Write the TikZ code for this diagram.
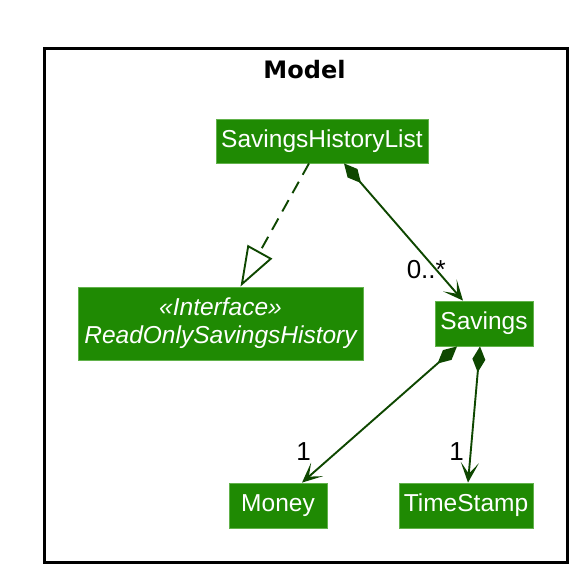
\documentclass[tikz,border=0pt]{standalone}
\usepackage{fontspec}
\setmainfont{Liberation Sans}
\newfontfamily\titlefont{DejaVu Sans}
\usetikzlibrary{arrows.meta,calc}
\definecolor{boxfill}{HTML}{1F8A03}
\definecolor{boxborder}{HTML}{62B24C}
\definecolor{arrowcol}{HTML}{0E4700}
\begin{document}
\begin{tikzpicture}[x=1pt,y=-1pt,
  cls/.style={fill=boxfill,draw=boxborder,line width=0.8pt,text=white,inner sep=0pt,
    font=\fontsize{24.5}{28}\selectfont,align=center},
  lbl/.style={inner sep=0pt,font=\fontsize{26}{28}\selectfont,text=black},
  link/.style={draw=arrowcol,line width=1.9pt},
  comp/.style={link,{Diamond[length=26pt,width=13pt]}-{Stealth[length=20pt,width=18pt,inset=11pt]}},
  realize/.style={link,dash pattern=on 13pt off 8pt,-{Triangle[open,length=40pt,width=28pt,fill=white]}}]
\useasboundingbox (0,0) rectangle (586,582);
\node[draw=black,line width=3pt,minimum width=523pt,minimum height=514pt,inner sep=0pt] (pkg) at (305.5,305) {};
\node[anchor=base,inner sep=0pt,font=\titlefont\bfseries\fontsize{24}{28}\selectfont] (title) at (304.5,78) {Model};
\node[cls,minimum width=212pt,minimum height=44pt] (shl) at (322,141) {SavingsHistoryList};
\node[cls,minimum width=285pt,minimum height=73pt] (iface) at (220.5,323.5) {\itshape «Interface»\\\itshape ReadOnlySavingsHistory};
\node[cls,minimum width=98pt,minimum height=45pt] (sav) at (484,323.5) {Savings};
\node[cls,minimum width=98pt,minimum height=45pt] (money) at (278,505.5) {Money};
\node[cls,minimum width=134pt,minimum height=45pt] (ts) at (466,505.5) {TimeStamp};
\draw[realize] ([xshift=-13pt]shl.south) -- ([xshift=20pt]iface.north);
\draw[comp] ([xshift=22pt]shl.south) -- ([xshift=-21pt]sav.north);
\draw[comp] ([xshift=-27pt]sav.south) -- ([xshift=24pt]money.north);
\draw[comp] ([xshift=-4pt]sav.south) -- ([xshift=2pt]ts.north);
\node[lbl,anchor=base east] (m1) at (446,278) {0..*};
\node[lbl,anchor=base east] (m2) at (311,460) {1};
\node[lbl,anchor=base east] (m3) at (464,460) {1};
\end{tikzpicture}
\end{document}
